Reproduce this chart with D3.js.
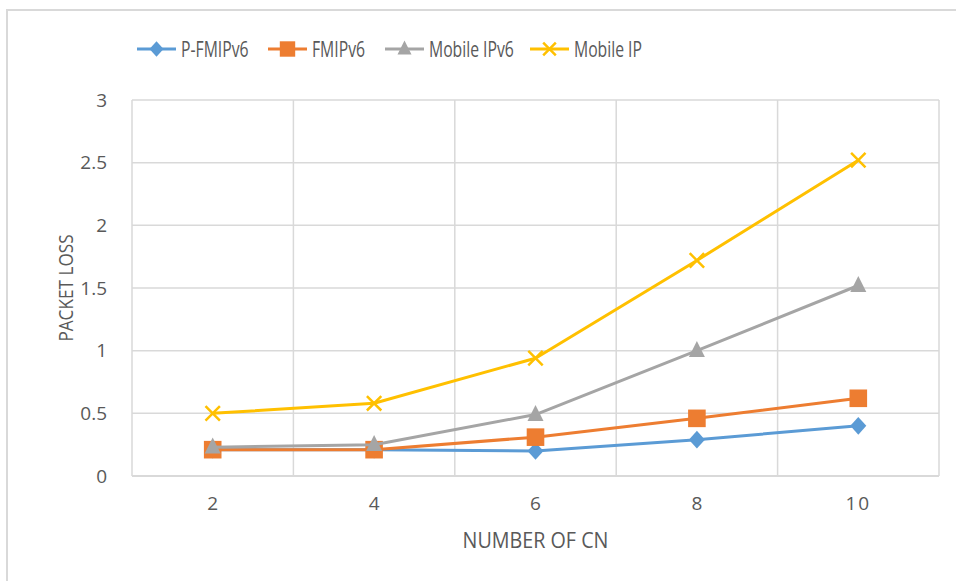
<!DOCTYPE html>
<html><head><meta charset="utf-8">
<script src="https://cdn.jsdelivr.net/npm/d3@7"></script>
<style>html,body{margin:0;padding:0;background:#fff;}</style>
</head><body>
<svg id="c" width="956" height="581"></svg>
<script>
const categories = ["2","4","6","8","10"];
const seriesNames = ["P-FMIPv6","FMIPv6","Mobile IPv6","Mobile IP"];
const pfmipv6 = [0.21, 0.21, 0.2, 0.29, 0.4];
const fmipv6 = [0.21, 0.21, 0.31, 0.46, 0.62];
const mobileIPv6 = [0.23, 0.25, 0.49, 1.0, 1.52];
const mobileIP = [0.5, 0.58, 0.94, 1.72, 2.52];
const yTicks = [0, 0.5, 1, 1.5, 2, 2.5, 3];
const colors = ["#5b9bd5", "#ed7d31", "#a5a5a5", "#ffc000"];
const markers = ["diamond", "square", "triangle", "x"];
const allSeries = [pfmipv6, fmipv6, mobileIPv6, mobileIP];

const svg = d3.select("#c");
const font = "'Open Sans', 'Liberation Sans', sans-serif";
const txt = "#595959";
const grid = "#d9d9d9";

// outer frame (only top/left visible)
svg.append("rect").attr("x",7).attr("y",10).attr("width",1000).attr("height",700)
  .attr("fill","none").attr("stroke",grid).attr("stroke-width",2);

const L = 132, R = 939, T = 100, B = 476;
const x = d3.scaleBand().domain(categories).range([L, R]);
const y = d3.scaleLinear().domain([0, 3]).range([B, T]);

// horizontal grid
svg.append("g").selectAll("line").data(yTicks).join("line")
  .attr("x1", L).attr("x2", R).attr("y1", d=>y(d)).attr("y2", d=>y(d))
  .attr("stroke", grid).attr("stroke-width", 1.5);
// vertical grid at band boundaries
const bounds = categories.map(c=>x(c)).concat([R]);
svg.append("g").selectAll("line").data(bounds).join("line")
  .attr("x1", d=>d).attr("x2", d=>d).attr("y1", T).attr("y2", B)
  .attr("stroke", grid).attr("stroke-width", 1.5);
// axis line
svg.append("line").attr("x1",L).attr("x2",R).attr("y1",B).attr("y2",B).attr("stroke",grid).attr("stroke-width",2);

// y tick labels
const yAxis = d3.axisLeft(y).tickValues(yTicks).tickSize(0).tickPadding(25).tickFormat(d3.format("~g"));
const ya = svg.append("g").attr("transform", `translate(${L},0)`).call(yAxis);
ya.select(".domain").remove();
ya.selectAll("text").attr("font-family", font).attr("font-size", 19).attr("fill", txt);

// x tick labels
const xAxis = d3.axisBottom(x).tickSize(0).tickPadding(21);
const xa = svg.append("g").attr("transform", `translate(0,${B})`).call(xAxis);
xa.select(".domain").remove();
xa.selectAll("text").attr("font-family", font).attr("font-size", 19).attr("fill", txt)
  .attr("letter-spacing", d => d.length > 1 ? 2 : 0);

// axis titles
svg.append("text").attr("transform", `translate(${(L+R)/2},548) scale(0.94,1)`).attr("text-anchor","middle")
  .attr("font-family", font).attr("font-size", 21).attr("fill", txt).text("NUMBER OF CN");
svg.append("text").attr("transform", `translate(73,${(T+B)/2}) rotate(-90) scale(0.86,1)`).attr("text-anchor","middle")
  .attr("font-family", font).attr("font-size", 20).attr("fill", txt).text("PACKET LOSS");

function drawMarker(g, type, color, cx, cy, s) {
  if (type === "diamond") {
    g.append("path").attr("d", `M${cx},${cy-s*0.55}L${cx+s*0.5},${cy}L${cx},${cy+s*0.55}L${cx-s*0.5},${cy}Z`).attr("fill", color);
  } else if (type === "square") {
    g.append("rect").attr("x", cx-s*0.55).attr("y", cy-s*0.55).attr("width", s*1.1).attr("height", s*1.1).attr("fill", color);
  } else if (type === "triangle") {
    g.append("path").attr("d", `M${cx},${cy-s*0.6}L${cx+s*0.5},${cy+s*0.4}L${cx-s*0.5},${cy+s*0.4}Z`).attr("fill", color);
  } else {
    const h = s*0.45;
    g.append("path").attr("d", `M${cx-h},${cy-h}L${cx+h},${cy+h}M${cx-h},${cy+h}L${cx+h},${cy-h}`)
      .attr("stroke", color).attr("stroke-width", 2.5).attr("fill","none");
  }
}

const line = d3.line().x((d,i)=>x(categories[i]) + x.bandwidth()/2).y(d=>y(d));
allSeries.forEach((vals, si) => {
  const g = svg.append("g");
  g.append("path").datum(vals).attr("d", line).attr("fill","none")
    .attr("stroke", colors[si]).attr("stroke-width", 3).attr("stroke-linejoin","round");
  vals.forEach((v, i) => drawMarker(g, markers[si], colors[si], x(categories[i]) + x.bandwidth()/2, y(v), 16));
});

// legend
const legendX = [137, 268, 385, 530];
const ly = 49;
seriesNames.forEach((name, i) => {
  const g = svg.append("g");
  const lx = legendX[i];
  g.append("line").attr("x1", lx).attr("x2", lx+39).attr("y1", ly).attr("y2", ly)
    .attr("stroke", colors[i]).attr("stroke-width", 3);
  drawMarker(g, markers[i], colors[i], lx+19.5, ly, 14);
  g.append("text").attr("transform", `translate(${lx+44},${ly+7.5}) scale(0.75,1)`).attr("font-family", font)
    .attr("font-size", 21).attr("fill", txt).text(name);
});
</script>
</body></html>
